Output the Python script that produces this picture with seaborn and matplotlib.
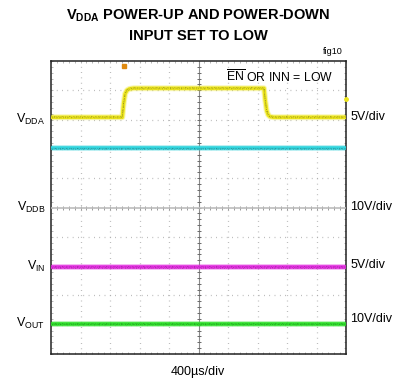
import matplotlib
matplotlib.use("Agg")
import matplotlib.pyplot as plt
import matplotlib.transforms as mtransforms
import seaborn as sns
import pandas as pd
import numpy as np

sns.set_style("white")
plt.rcParams["font.family"] = ["Liberation Sans", "DejaVu Sans"]
plt.rcParams["text.color"] = "black"
plt.rcParams["mathtext.fontset"] = "custom"
plt.rcParams["mathtext.rm"] = "Liberation Sans"
plt.rcParams["mathtext.bf"] = "Liberation Sans:bold"

# Time base: 400 us/div, 10 divisions; vertical position in divisions
vdda_t = [0, 967, 985, 1005, 1030, 1065, 1120, 2888, 2905, 2925, 2945, 2970, 3020, 4000]
vdda_v = [3.08, 3.08, 3.55, 3.88, 4.00, 4.05, 4.07, 4.07, 3.65, 3.30, 3.16, 3.10, 3.08, 3.08]
cyan_t = [0, 4000]
cyan_v = [2.02, 2.02]
vddb_t = [0, 4000]
vddb_v = [0.0, 0.0]
vin_t = [0, 4000]
vin_v = [-2.03, -2.03]
vout_t = [0, 4000]
vout_v = [-3.97, -3.97]

left_labels = [r"V$_{\mathregular{DDA}}$", r"V$_{\mathregular{DDB}}$",
               r"V$_{\mathregular{IN}}$", r"V$_{\mathregular{OUT}}$"]
left_label_pos = [3.0, 0.0, -2.0, -3.95]
right_labels = ["5V/div", "10V/div", "5V/div", "10V/div"]
right_label_pos = [3.1, 0.0, -1.95, -3.8]

W, H = 395, 379
fig = plt.figure(figsize=(W / 100, H / 100), dpi=100)
ax = fig.add_axes([51 / W, (H - 354) / H, 295 / W, 293 / H])
ax.set_xlim(0, 4000)
ax.set_ylim(-5, 5)

# graticule: dotted division lines with sub-division dots
for gx in np.arange(400, 4000, 400):
    if gx != 2000:
        ax.axvline(gx, color="#a8a8a8", lw=0.9, ls=(0, (0.6, 3.65)), zorder=1)
for gy in np.arange(-4, 5, 1):
    if gy != 0:
        ax.axhline(gy, color="#a8a8a8", lw=0.9, ls=(0, (0.6, 3.65)), zorder=1)
ax.axvline(2000, color="#8a8a8a", lw=0.8, zorder=1)
sub_x = np.arange(80, 4000, 80)
sub_y = np.arange(-4.8, 5.0, 0.2)
ax.plot(sub_x, np.zeros_like(sub_x), ls="none", marker="|", ms=3.5, mew=0.7, color="#999999", zorder=1)
ax.plot(np.full_like(sub_y, 2000), sub_y, ls="none", marker="_", ms=3.5, mew=0.7, color="#6a6a6a", zorder=1)


def trace(t, v, color, dark, lw=2.6, fuzz=True):
    df = pd.DataFrame({"t": t, "v": v})
    if fuzz:
        # soft halo around the trace
        sns.lineplot(data=df, x="t", y="v", color=color, lw=lw + 1.6, alpha=0.35, ax=ax, zorder=2)
    sns.lineplot(data=df, x="t", y="v", color=color, lw=lw, ax=ax, zorder=3)
    if fuzz:
        patterns = [(0, (0.6, 1.4, 0.3, 2.2, 1.0, 1.1, 0.4, 2.6)),
                    (1.3, (0.4, 2.0, 0.8, 1.3, 0.3, 2.9, 0.7, 1.6)),
                    (0.7, (0.3, 1.7, 0.5, 2.4, 0.9, 1.5))]
        for dy, pat in zip([0.55, -0.45, 0.0], patterns):
            tr = mtransforms.offset_copy(ax.transData, fig=fig, y=dy, units="points")
            ax.plot(t, v, color=dark, lw=0.55, alpha=0.75, ls=pat, transform=tr, zorder=4)


trace(vddb_t, vddb_v, "#bcbcbc", "#909090", lw=1.2, fuzz=False)
trace(vdda_t, vdda_v, "#ece51c", "#6f6a1c")
trace(cyan_t, cyan_v, "#2fd3dc", "#2a6f74")
trace(vin_t, vin_v, "#e22ee0", "#7a2078")
trace(vout_t, vout_v, "#2ee02a", "#247a22")

# trigger marker and channel marker
ax.plot([985], [4.83], marker="s", ms=3.5, color="#e08a10", clip_on=False, zorder=5)
ax.plot([4000], [3.7], marker="o", ms=2.5, color="#ece51c", clip_on=False, zorder=5)

ax.set_xlabel("")
ax.set_ylabel("")
ax.set_xticks([])
ax.set_yticks([])
ax.set_xticks(np.arange(0, 4001, 80), minor=True)
ax.set_yticks(np.arange(-5, 5.01, 0.2), minor=True)
ax.tick_params(which="minor", direction="in", length=1.5, width=0.5, color="#999999",
               top=True, right=True, bottom=True, left=True,
               labelbottom=False, labelleft=False)
for s in ax.spines.values():
    s.set_color("#222222")
    s.set_linewidth(1.1)
    s.set_visible(True)

fig.text(198 / W, 1 - 16 / H, r"V$_{\mathbf{DDA}}$ POWER-UP AND POWER-DOWN",
         ha="center", va="center", fontsize=10.5, fontweight="bold")
fig.text(198 / W, 1 - 36 / H, "INPUT SET TO LOW",
         ha="center", va="center", fontsize=10.5, fontweight="bold")
fig.text(343 / W, 1 - 52 / H, "fig10", ha="right", va="center", fontsize=6.5)
ax.text(0.593, 0.945, r"$\overline{\mathregular{EN}}$ OR INN = LOW", transform=ax.transAxes,
        ha="left", va="center", fontsize=8.8)

for lab, y in zip(left_labels, left_label_pos):
    ax.text(-0.02, (y + 5) / 10, lab, transform=ax.transAxes, ha="right", va="center", fontsize=9)
for lab, y in zip(right_labels, right_label_pos):
    ax.text(1.015, (y + 5) / 10, lab, transform=ax.transAxes, ha="left", va="center", fontsize=9)

fig.text(198 / W, 1 - 372 / H, "400\u00b5s/div", ha="center", va="center", fontsize=9)

fig.savefig("out.png", dpi=100)
